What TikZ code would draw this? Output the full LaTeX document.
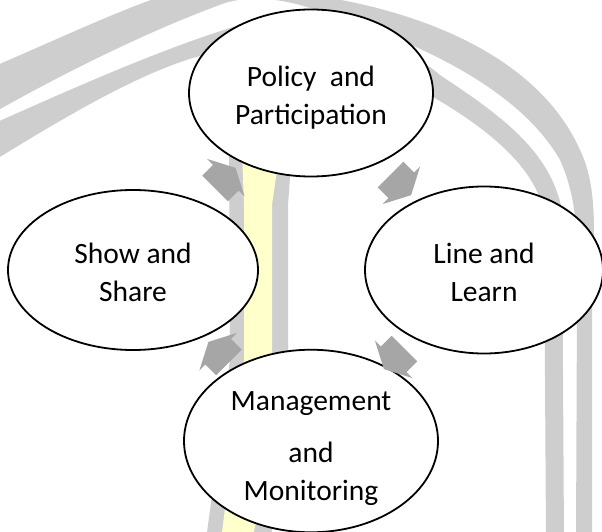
\documentclass[tikz,border=0pt]{standalone}
\usepackage{fontspec}
\setmainfont{Carlito}
\usetikzlibrary{shapes.geometric, shapes.arrows, calc}
\definecolor{markgray}{RGB}{206,206,206}
\definecolor{markyellow}{RGB}{255,255,204}
\definecolor{flowgray}{RGB}{166,166,166}
\tikzstyle{stage} = [ellipse, draw=black, line width=1.8pt, fill=white, inner sep=0pt, align=center, font=\fontsize{29.5}{38}\selectfont]
\tikzstyle{flow} = [single arrow, fill=flowgray, inner xsep=0pt, inner ysep=18pt, single arrow head extend=8.5pt, single arrow tip angle=125, minimum height=29pt]

\begin{document}
\begin{tikzpicture}[x=1pt, y=-1pt]
		\useasboundingbox (0,0) rectangle (602,532);
		\clip (0,0) rectangle (602,532);
		% watermark behind the cycle
		\fill[markgray] (-5,66) .. controls (60,38) and (120,10) .. (165,-5) .. controls (220,-25) and (280,-20) .. (330,-2) .. controls (430,15) and (540,60) .. (580,150) .. controls (600,190) and (593,250) .. (592,300) -- (592,540) -- (576,540) -- (577,300) .. controls (578,240) and (578,200) .. (560,160) .. controls (520,90) and (420,40) .. (300,5) .. controls (270,-3) and (245,-3) .. (225,3) .. controls (150,30) and (60,75) .. (-5,112) -- cycle;
		\fill[markgray] (-5,123) .. controls (80,85) and (160,50) .. (230,28) .. controls (300,5) and (400,40) .. (440,75) .. controls (500,115) and (550,150) .. (562,210) -- (564,540) -- (546,540) -- (544,215) .. controls (538,170) and (490,130) .. (433,97) .. controls (380,60) and (260,40) .. (200,56) .. controls (140,72) and (60,120) .. (-5,160) -- cycle;
		\fill[markgray] (229,150) -- (292,150) -- (288,205) -- (288,450) -- (270,540) -- (206,540) -- (230,360) -- cycle;
		\fill[markyellow] (242,150) -- (280,150) -- (272,205) -- (272,450) -- (252,540) -- (221,540) -- (244,360) -- (244,205) -- cycle;
		
		\node (policy) [stage, minimum width=244pt, minimum height=167pt] at (311, 93) {\rule{0pt}{30pt}Policy\ \ and\\Participation};
		\node (line) [stage, minimum width=238pt, minimum height=167pt] at ($(policy) + (173, 177)$) {\rule{0pt}{25pt}Line and\\Learn};
		\node (management) [stage, minimum width=254pt, minimum height=176pt] at ($(policy) + (0, 348)$) {\rule{0pt}{34pt}Management\\[14pt]and\\Monitoring};
		\node (show) [stage, minimum width=250pt, minimum height=160pt] at ($(policy) + (-178, 177)$) {\rule{0pt}{25pt}Show and\\Share};
		
		\node (toline) [flow, rotate=-45] at ($(policy)!0.5!(line)$) {};
		\node (tomanagement) [flow, rotate=-135] at ($(line)!0.5!(management)$) {};
		\node (toshow) [flow, rotate=135] at ($(management)!0.5!(show)$) {};
		\node (topolicy) [flow, rotate=45] at ($(show)!0.5!(policy)$) {};
	\end{tikzpicture}
\end{document}
